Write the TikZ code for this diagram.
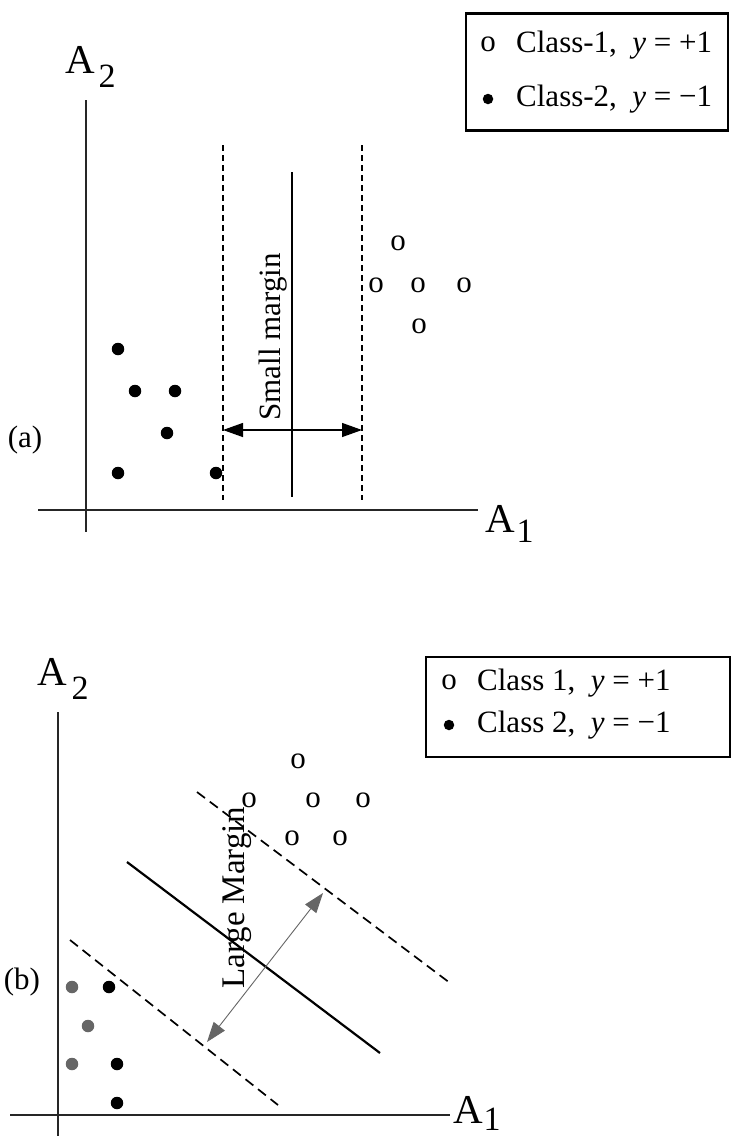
\documentclass[tikz,border=0pt]{standalone}
\usepackage{fontspec}
\setmainfont{Liberation Serif}
\usetikzlibrary{arrows.meta}
\begin{document}
\begin{tikzpicture}[x=1pt,y=-1pt,
  txt/.style={inner sep=0pt, font=\fontsize{31}{36}\selectfont},
  mtxt/.style={inner sep=0pt, font=\fontsize{31}{36}\selectfont},
  bigA/.style={inner sep=0pt, font=\fontsize{41}{41}\selectfont},
  sub/.style={inner sep=0pt, font=\fontsize{34}{34}\selectfont},
  omark/.style={inner sep=0pt, font=\fontsize{31}{31}\selectfont},
  dot/.style={circle, fill=black, inner sep=0pt, minimum size=12.5pt},
  graydot/.style={dot, fill=black!60},
  axisline/.style={line width=2.1pt, black!85},
  sepline/.style={line width=2.2pt},
  dashA/.style={line width=1.8pt, dash pattern=on 6pt off 4pt},
  dashB/.style={line width=1.7pt, dash pattern=on 10pt off 6pt},
  legbox/.style={draw, line width=2.2pt, inner sep=0pt},
  dimarrow/.style={line width=1.3pt, {Triangle[length=20pt,width=14pt]}-{Triangle[length=20pt,width=14pt]}},
  dimarrowb/.style={line width=0.9pt, black!60, {Triangle[length=20pt,width=14pt]}-{Triangle[length=20pt,width=14pt]}}
]
\useasboundingbox (0,0) rectangle (742,1136);
\fill[white] (0,0) rectangle (742,1136);

% ================= Panel (a) =================
\node[legbox, minimum width=262pt, minimum height=117pt] (legA) at (597,72) {};
\node[omark] (legAo) at (488,44) {o};
\node[txt, anchor=west] (legAt1) at (516,45) {Class-1,\ \ \textit{y} = +1};
\node[dot, minimum size=10.5pt] (legAd) at (488,99) {};
\node[txt, anchor=west] (legAt2) at (516,99) {Class-2,\ \ \textit{y} = −1};

\node[bigA] (aA) at (80,60) {A};
\node[sub] (aA2) at (107,76) {2};
\node[bigA] (aB) at (500,519) {A};
\node[sub] (aB1) at (525,531) {1};
\node[txt] (alab) at (25,440) {(a)};

\coordinate (ayt) at (86,100);
\coordinate (ayb) at (86,532);
\coordinate (axl) at (38,510);
\coordinate (axr) at (478,510);
\draw[axisline] (ayt) -- (ayb);
\draw[axisline] (axl) -- (axr);

\coordinate (ad1t) at (223,145);
\coordinate (ad1b) at (223,500);
\coordinate (ad2t) at (362,145);
\coordinate (ad2b) at (362,500);
\coordinate (ast) at (292,172);
\coordinate (asb) at (292,497);
\draw[dashA] (ad1t) -- (ad1b);
\draw[dashA] (ad2t) -- (ad2b);
\draw[sepline] (ast) -- (asb);
\coordinate (aml) at (223,430);
\coordinate (amr) at (362,430);
\draw[dimarrow] (aml) -- (amr);
\node[mtxt, rotate=90] (asmall) at (273,337) {Small margin};

\node[omark] (ao1) at (398,243) {o};
\node[omark] (ao2) at (376,285) {o};
\node[omark] (ao3) at (418,285) {o};
\node[omark] (ao4) at (464,285) {o};
\node[omark] (ao5) at (419,326) {o};

\node[dot] (ad1) at (118,349) {};
\node[dot] (ad2) at (135,391) {};
\node[dot] (ad3) at (175,391) {};
\node[dot] (ad4) at (167,433) {};
\node[dot] (ad5) at (118,473) {};
\node[dot] (ad6) at (216,473) {};

% ================= Panel (b) =================
\node[legbox, minimum width=304pt, minimum height=100pt] (legB) at (578,707) {};
\node[omark] (legBo) at (449,682) {o};
\node[txt, anchor=west] (legBt1) at (477,683) {Class 1,\ \ \textit{y} = +1};
\node[dot, minimum size=10.5pt] (legBd) at (449,725) {};
\node[txt, anchor=west] (legBt2) at (477,725) {Class 2,\ \ \textit{y} = −1};

\node[bigA] (bA) at (52,672) {A};
\node[sub] (bA2) at (80,688) {2};
\node[bigA] (bB) at (468,1110) {A};
\node[sub] (bB1) at (492,1119) {1};
\node[txt] (blab) at (22,982) {(b)};

\coordinate (byt) at (58,712);
\coordinate (byb) at (58,1136);
\coordinate (bxl) at (10,1115);
\coordinate (bxr) at (450,1115);
\draw[axisline] (byt) -- (byb);
\draw[axisline] (bxl) -- (bxr);

\coordinate (bu1) at (197,792);
\coordinate (bu2) at (450,983);
\coordinate (bs1) at (127,862);
\coordinate (bs2) at (380,1053);
\coordinate (bl1) at (70,940);
\coordinate (bl2) at (278,1105);
\draw[dashB] (bu1) -- (bu2);
\draw[sepline] (bs1) -- (bs2);
\draw[dashB] (bl1) -- (bl2);

\node[omark] (bo1) at (298,761) {o};
\node[omark] (bo2) at (249,800) {o};
\node[omark] (bo3) at (313,800) {o};
\node[omark] (bo4) at (363,800) {o};
\node[omark] (bo5) at (292,838) {o};
\node[omark] (bo6) at (340,838) {o};

\coordinate (bma) at (207,1042);
\coordinate (bmb) at (323,893);
\draw[dimarrowb] (bma) -- (bmb);
\node[mtxt, font=\fontsize{33}{36}\selectfont, rotate=90] (blarge) at (237,898) {Large Margin};

\node[graydot] (bd1) at (72,987) {};
\node[dot] (bd2) at (109,987) {};
\node[graydot] (bd3) at (88,1026) {};
\node[graydot] (bd4) at (72,1064) {};
\node[dot] (bd5) at (117,1064) {};
\node[dot] (bd6) at (117,1103) {};
\end{tikzpicture}
\end{document}
